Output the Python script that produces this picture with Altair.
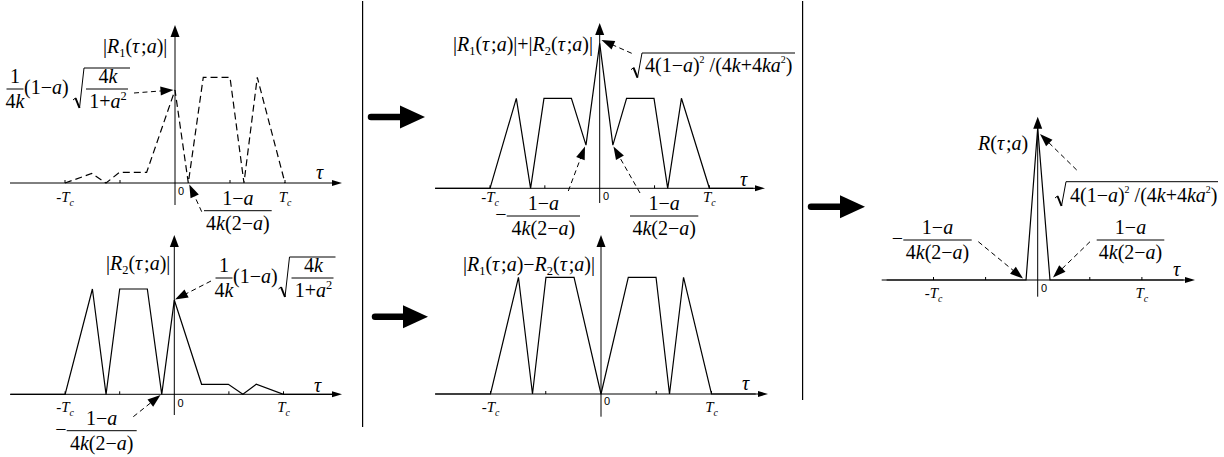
import math
import altair as alt
import pandas as pd

# ---- curve samples: tau in units of Tc, height in units of the plateau level ----
R1_TAU = [-1.0, -0.757, -0.627, -0.506, -0.258, 0.0, 0.121, 0.257, 0.5, 0.627, 0.748, 1.0]
R1_AMP = [0.0, 0.09, 0.0, 0.10, 0.10, 0.88, 0.0, 1.0, 1.0, 0.0, 1.0, 0.0]

R2_TAU = [-1.5, -1.0, -0.75, -0.625, -0.5, -0.247, -0.115, 0.0, 0.25, 0.495, 0.628, 0.75, 1.0, 1.45]
R2_AMP = [0.0, 0.0, 1.0, 0.0, 1.0, 1.0, 0.0, 0.895, 0.095, 0.095, 0.0, 0.095, 0.0, 0.0]

SUM_TAU = [-1.5, -1.0, -0.76, -0.63, -0.508, -0.258, -0.125, 0.0, 0.12, 0.245, 0.495, 0.62, 0.745, 1.0, 1.4]
SUM_AMP = [0.0, 0.0, 1.0, 0.0, 1.0, 1.0, 0.48, 1.61, 0.48, 1.0, 1.0, 0.0, 1.0, 0.0, 0.0]

DIFF_TAU = [-1.5, -1.0, -0.747, -0.62, -0.498, -0.244, 0.0, 0.247, 0.498, 0.62, 0.747, 1.0, 1.4]
DIFF_AMP = [0.0, 0.0, 1.0, 0.0, 1.0, 1.0, 0.0, 1.0, 1.0, 0.0, 1.0, 0.0, 0.0]

R_TAU = [-1.45, -0.112, 0.0, 0.118, 1.4]
R_AMP = [0.0, 0.0, 1.61, 0.0, 0.0]

TICKS = [-1.0, -0.5, 0.5, 1.0]

# ---- label texts (^ superscript, ` small superscript, _ subscript) ----
LBL_R1 = "|R_1(τ;a)|"
LBL_R2 = "|R_2(τ;a)|"
LBL_SUM = "|R_1(τ;a)|+|R_2(τ;a)|"
LBL_DIFF = "|R_1(τ;a)−R_2(τ;a)|"
LBL_R = "R(τ;a)"
PEAK_IN_ROOT = "4(1−a)`2 /(4k+4ka`2)"
ZERO_NUM, ZERO_DEN = "1−a", "4k(2−a)"
SIDE_NUM, SIDE_DEN, SIDE_MID = "1", "4k", "(1−a)"
ROOT_NUM, ROOT_DEN = "4k", "1+a^2"
MINUS = "−"
TICK_NEG, TICK_POS = "-T_c", "T_c"
ORIGIN, AXIS_VAR = "0", "τ"

FS = 20          # math font size
TS = 15          # tick label size
SERIF = "Liberation Serif"
SANS = "Liberation Sans"

# Times-compatible advance widths (em)
REG_W = {'(': .333, ')': .333, '+': .564, '−': .564, ';': .278, '/': .278,
         '|': .2, ' ': .25, '-': .333, 'a': .444}
ITA_W = {'a': .5, 'k': .444, 'R': .611, 'T': .556, 'c': .444, 'τ': .45}
KIND = {'r': (1.0, 0.0, 'r'), 'i': (1.0, 0.0, 'i'),
        'sub': (0.62, 0.22, 'r'), 'subi': (0.66, 0.25, 'i'),
        'sup': (0.62, -0.42, 'r'), 'supt': (0.5, -0.42, 'r')}


def gw(ch, st):
    if st == 'i':
        return ITA_W.get(ch, REG_W.get(ch, .5))
    return REG_W.get(ch, .5)


def m(s):
    """split a formula string into (text, kind) runs"""
    out, i = [], 0
    while i < len(s):
        c = s[i]
        if c in '^`_':
            n = s[i + 1]
            if c == '_':
                k = 'subi' if n.isalpha() else 'sub'
            else:
                k = 'sup' if c == '^' else 'supt'
            out.append([n, k])
            i += 2
            continue
        k = 'i' if c.isalpha() else 'r'
        if out and out[-1][1] == k:
            out[-1][0] += c
        else:
            out.append([c, k])
        i += 1
    return out


def width(segs, size):
    tot = 0.0
    for txt, kind in segs:
        sc, _, st = KIND[kind]
        tot += sum(gw(c, st) for c in txt) * size * sc
    return tot


class Panel:
    """one diagram; (gx0, gy0, w, h) is the frame of the column it is drawn in"""

    def __init__(self, gx0, gy0, w, h, ax, ay, sx, sy):
        self.gx0, self.gy0, self.w, self.h = gx0, gy0, w, h
        self.ax, self.ay, self.sx, self.sy = ax, ay, sx, sy
        self.segs, self.dash, self.thick, self.heads, self.texts = [], [], [], [], []
        self.curves = []

    def u(self, gx):
        return (gx - self.ax) / self.sx

    def v(self, gy):
        return (self.ay - gy) / self.sy

    def px(self, t):
        return self.ax + t * self.sx

    def _seg(self, p, q, **kw):
        d = dict(x=self.u(p[0]), y=self.v(p[1]), x2=self.u(q[0]), y2=self.v(q[1]))
        d.update(kw)
        return d

    def line(self, p, q, sw=1.0):
        self.segs.append(self._seg(p, q, sw=sw))

    def head(self, tip, d, length, shape):
        L = math.hypot(d[0], d[1])
        ux, uy = d[0] / L, d[1] / L
        cx, cy = tip[0] - ux * length / 2, tip[1] - uy * length / 2
        self.heads.append(dict(x=self.u(cx), y=self.v(cy), size=length ** 2, shape=shape,
                               angle=math.degrees(math.atan2(ux, -uy)) % 360))

    def text(self, gx, gy, txt, size, style):
        self.texts.append(dict(x=self.u(gx), y=self.v(gy), text=txt, size=size, style=style))


SH_AXV = "M0,-1L0.75,1L-0.75,1Z"
SH_AXH = "M0,-1L0.6,1L-0.6,1Z"
SH_DASH = "M0,-1L0.7,1L-0.7,1Z"
SH_BIG = "M0,-1L0.92,1L-0.92,1Z"


def run(P, segs, x, y, size=FS):
    for txt, kind in segs:
        sc, dy, st = KIND[kind]
        s = size * sc
        # svg drops leading blanks, so they become a plain advance
        lead = len(txt) - len(txt.lstrip(' '))
        x += lead * gw(' ', st) * s
        body = txt.lstrip(' ')
        if body:
            P.text(x, y + dy * size, body, s, st)
        x += sum(gw(c, st) for c in body) * s
    return x


def frac(P, num, den, cx, bar_y, x0, x1, fs=FS):
    P.line((x0, bar_y), (x1, bar_y), 1.0)
    n, d = m(num), m(den)
    run(P, n, cx - width(n, fs) / 2, bar_y - 0.3 * fs, fs)
    run(P, d, cx - width(d, fs) / 2, bar_y + 0.96 * fs, fs)


def radical(P, x0, yb, yt, xe):
    a, b = (x0, yb - 8), (x0 + 2.5, yb - 10)
    c, d = (x0 + 6.5, yb), (x0 + 11, yt)
    P.line(a, b, 1.0)
    P.line(b, c, 2.0)
    P.line(c, d, 1.0)
    P.line(d, (xe, yt), 1.0)


def dashed_arrow(P, start, tip, length=13):
    dx, dy = tip[0] - start[0], tip[1] - start[1]
    L = math.hypot(dx, dy)
    end = (tip[0] - dx / L * (length - 2), tip[1] - dy / L * (length - 2))
    P.dash.append(P._seg(start, end))
    P.head(tip, (dx, dy), length, SH_DASH)


def bold_arrow(P, x0, x1, y, length=25):
    P.thick.append(P._seg((x0, y), (x1 - length + 4, y)))
    P.head((x1, y), (1, 0), length, SH_BIG)


def axes(P, hx0, hx1, vy0, vy1, var_x, var_y, zero_x, zero_y, tick_y):
    P.line((hx0, P.ay), (hx1 - 5, P.ay), 1.0)
    P.head((hx1, P.ay), (1, 0), 10, SH_AXH)
    P.line((P.ax, vy0), (P.ax, vy1 + 6), 1.0)
    P.head((P.ax, vy1), (0, -1), 12, SH_AXV)
    for t in TICKS:
        P.line((P.px(t), P.ay), (P.px(t), P.ay - 3), 1.0)
    run(P, m(AXIS_VAR), var_x, var_y)
    P.text(zero_x, zero_y, ORIGIN, 11, 's')
    for t, s in ((-1, TICK_NEG), (1, TICK_POS)):
        segs = m(s)
        run(P, segs, P.px(t) - width(segs, TS) / 2, tick_y, TS)


def root_fraction_label(P, fx, bar_y, root_x):
    # 1/(4k) (1-a) sqrt(4k/(1+a^2))
    frac(P, SIDE_NUM, SIDE_DEN, fx, bar_y, fx - 8.5, fx + 8.5)
    run(P, m(SIDE_MID), fx + 9, bar_y + 5)
    rb = bar_y + 19
    radical(P, root_x, rb, bar_y - 21, root_x + 57)
    frac(P, ROOT_NUM, ROOT_DEN, root_x + 35, bar_y, root_x + 13, root_x + 55)


def minus_fraction(P, bar_x0, bar_x1, bar_y, with_minus):
    if with_minus:
        run(P, m(MINUS), bar_x0 - 11.5, bar_y + 5)
    frac(P, ZERO_NUM, ZERO_DEN, (bar_x0 + bar_x1) / 2, bar_y, bar_x0, bar_x1)


LEFT_COL = (0, 0, 362, 457)
MID_COL = (362, 0, 440, 457)
RIGHT_COL = (802, 0, 422, 457)

# ---------------- top-left: |R1| ----------------
TL = Panel(*LEFT_COL, 175, 183, 110, 105.7)
TL.curves.append((R1_TAU, R1_AMP, True))
axes(TL, 10, 342, 205, 25, 316, 179, 178, 194.5, 202)
run(TL, m(LBL_R1), 103, 53)
root_fraction_label(TL, 15, 89, 73)
dashed_arrow(TL, (134, 93), (173.5, 90))
minus_fraction(TL, 204, 271.7, 210.7, False)
dashed_arrow(TL, (201.7, 211.7), (189.3, 184.5))

# ---------------- bottom-left: |R2| ----------------
BL = Panel(*LEFT_COL, 174.3, 394.3, 109.2, 105.3)
BL.curves.append((R2_TAU, R2_AMP, False))
axes(BL, 10, 342, 415, 235, 314, 392, 177.5, 407, 412)
run(BL, m(LBL_R2), 106, 270)
root_fraction_label(BL, 224, 278, 278.5)
dashed_arrow(BL, (211, 281), (175, 299.5))
minus_fraction(BL, 66.7, 136.7, 430.7, True)
dashed_arrow(BL, (133.3, 416.7), (160.5, 395))

# ---------------- middle-top: |R1|+|R2| ----------------
MT = Panel(*MID_COL, 599.7, 188.3, 109.7, 90)
MT.curves.append((SUM_TAU, SUM_AMP, False))
axes(MT, 435, 765, 203, 23, 740, 186, 603, 200, 202)
run(MT, m(LBL_SUM), 453, 51)
radical(MT, 631, 77.7, 53, 795)
run(MT, m(PEAK_IN_ROOT), 645, 71.7)
dashed_arrow(MT, (631.7, 53.3), (601.5, 40))
minus_fraction(MT, 506.7, 580, 216, True)
minus_fraction(MT, 630, 698.3, 216, False)
dashed_arrow(MT, (568.3, 191), (585, 146.5))
dashed_arrow(MT, (640, 193), (613.5, 146.5))
bold_arrow(MT, 371, 425, 117)
MT.segs.append(MT._seg((362.6, 1), (362.6, 427), sw=1.2))

# ---------------- middle-bottom: |R1-R2| ----------------
MB = Panel(*MID_COL, 601, 394, 110.5, 116.7)
MB.curves.append((DIFF_TAU, DIFF_AMP, False))
axes(MB, 435, 768, 416.7, 235, 742, 390, 604, 405, 412)
run(MB, m(LBL_DIFF), 463, 271)
bold_arrow(MB, 375, 428, 316.7)

# ---------------- right: R ----------------
RP = Panel(*RIGHT_COL, 1037.7, 280, 104.2, 94.4)
RP.curves.append((R_TAU, R_AMP, False))
axes(RP, 881.7, 1195, 296.7, 116.7, 1173, 276, 1041, 292, 298)
run(RP, m(LBL_R), 978, 150)
radical(RP, 1055, 206, 181.7, 1218)
run(RP, m(PEAK_IN_ROOT), 1070, 201.7)
dashed_arrow(RP, (1076.7, 170), (1040, 134))
minus_fraction(RP, 903.3, 971.7, 240, True)
minus_fraction(RP, 1096.7, 1164.3, 240, False)
dashed_arrow(RP, (978.3, 241.7), (1023, 278.5))
dashed_arrow(RP, (1090, 241.7), (1053, 277.5))
bold_arrow(RP, 811, 865, 206.7)
RP.segs.append(RP._seg((802.6, 1), (802.6, 400), sw=1.2))


def build(P):
    X = alt.Scale(domain=[P.u(P.gx0), P.u(P.gx0 + P.w)], nice=False, zero=False)
    Y = alt.Scale(domain=[P.v(P.gy0 + P.h), P.v(P.gy0)], nice=False, zero=False)

    def xy(fx='x', fy='y'):
        return dict(x=alt.X(f'{fx}:Q', scale=X, axis=None),
                    y=alt.Y(f'{fy}:Q', scale=Y, axis=None))

    layers = []
    for tau, amp, dashed in P.curves:
        df = pd.DataFrame({'t': tau, 'a': amp, 'i': list(range(len(tau)))})
        kw = dict(color='black', strokeWidth=1.2)
        if dashed:
            kw['strokeDash'] = [7, 4]
        layers.append(alt.Chart(df).mark_line(**kw).encode(order='i:Q', **xy('t', 'a')))
    if P.segs:
        layers.append(alt.Chart(pd.DataFrame(P.segs)).mark_rule(color='black').encode(
            x2='x2:Q', y2='y2:Q', strokeWidth=alt.StrokeWidth('sw:Q', scale=None), **xy()))
    if P.dash:
        layers.append(alt.Chart(pd.DataFrame(P.dash)).mark_rule(
            color='black', strokeWidth=1, strokeDash=[5, 3.5]).encode(x2='x2:Q', y2='y2:Q', **xy()))
    if P.thick:
        layers.append(alt.Chart(pd.DataFrame(P.thick)).mark_rule(
            color='black', strokeWidth=6.5, strokeCap='round').encode(x2='x2:Q', y2='y2:Q', **xy()))
    if P.heads:
        layers.append(alt.Chart(pd.DataFrame(P.heads)).mark_point(
            filled=True, color='black', opacity=1).encode(
            shape=alt.Shape('shape:N', scale=None), size=alt.Size('size:Q', scale=None),
            angle=alt.Angle('angle:Q', scale=None), **xy()))
    tdf = pd.DataFrame(P.texts)
    styles = {'i': dict(font=SERIF, fontStyle='italic'),
              'r': dict(font=SERIF, fontStyle='normal'),
              's': dict(font=SANS, fontStyle='normal')}
    for st, kw in styles.items():
        sub = tdf[tdf['style'] == st]
        if len(sub):
            layers.append(alt.Chart(sub).mark_text(
                align='left', baseline='alphabetic', color='black', **kw).encode(
                text='text:N', size=alt.Size('size:Q', scale=None), **xy()))
    return alt.layer(*layers)


def column(*panels):
    w, h = panels[0].w, panels[0].h
    if len(panels) == 1:
        return build(panels[0]).properties(width=w, height=h)
    return alt.layer(*[build(p) for p in panels]).resolve_scale(
        x='independent', y='independent').properties(width=w, height=h)


chart = alt.hconcat(column(TL, BL), column(MT, MB), column(RP),
                    spacing=0, bounds='flush').properties(padding=0).configure_view(strokeWidth=0)

chart.save("out.html", embed_options={"renderer": "svg", "actions": False})
